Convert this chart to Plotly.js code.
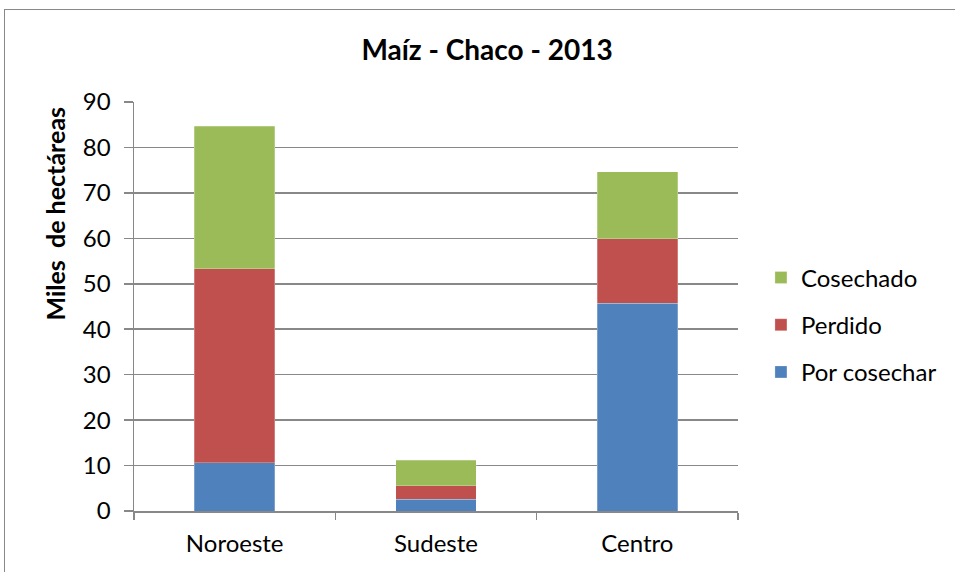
<!DOCTYPE html>
<html><head><meta charset="utf-8">
<script src="https://cdn.plot.ly/plotly-3.0.1.min.js"></script>
<style>html,body{margin:0;padding:0;background:#fff;}#chart{width:955px;height:572px;position:relative;}
#frame{position:absolute;left:4px;top:9px;width:960px;height:600px;border:1.5px solid #888;pointer-events:none;}</style>
</head><body>
<div id="chart"></div><div id="frame"></div>
<script>
const categories = ["Noroeste", "Sudeste", "Centro"];
const porCosechar = [10.6, 2.6, 45.7];
const perdido = [42.7, 3.0, 14.2];
const cosechado = [31.4, 5.6, 14.8];
const seriesNames = ["Por cosechar", "Perdido", "Cosechado"];
const colors = ["#4F81BD", "#C0504D", "#9BBB59"];
const yTicks = [0,10,20,30,40,50,60,70,80,90];

const font = "Lato, 'Open Sans', sans-serif";
const data = [porCosechar, perdido, cosechado].map((v,i)=>({
  type:'bar', x:categories, y:v, name:seriesNames[i], legendgroup:'g'+i, legendrank:10-i,
  marker:{color:colors[i], line:{color:'rgba(255,255,255,0.5)', width:0.5}},
  hoverinfo:'y'
}));
const layout = {
  width:955, height:572,
  barmode:'stack', bargap:0.6,
  margin:{l:134, r:217, t:102, b:61},
  paper_bgcolor:'#fff', plot_bgcolor:'#fff',
  font:{family:font, size:24, color:'#000'},
  title:{text:'<b>Maíz - Chaco - 2013</b>', font:{family:font, size:28, color:'#000'}, x:0.51, xanchor:'center', y:0.913, yanchor:'middle'},
  xaxis:{showline:true, linecolor:'#888', linewidth:1.5, ticks:'outside', tickson:'boundaries', ticklen:7, tickcolor:'#888', tickwidth:1.5, showgrid:false, tickfont:{size:24}, ticklabelstandoff:11, fixedrange:true},
  yaxis:{range:[0,90], tickvals:yTicks, showline:true, linecolor:'#888', linewidth:1.5, ticks:'outside', ticklen:9, tickcolor:'#888', tickwidth:1.5, gridcolor:'#888', gridwidth:1.5, zeroline:false, tickfont:{size:24}, ticklabelstandoff:8, fixedrange:true},
  showlegend:true,
  legend:{x:1.038, y:0.455, xanchor:'left', yanchor:'middle', traceorder:'grouped', font:{size:24}, tracegroupgap:13},
  annotations:[{text:'<b>Miles&nbsp;&nbsp;de hectáreas</b>', textangle:-90, xref:'paper', yref:'paper', x:-0.131, y:0.727, xanchor:'center', yanchor:'middle', showarrow:false, font:{family:font, size:25, color:'#000'}}]
};
Plotly.newPlot('chart', data, layout, {displayModeBar:false, staticPlot:true});
</script>
</body></html>
